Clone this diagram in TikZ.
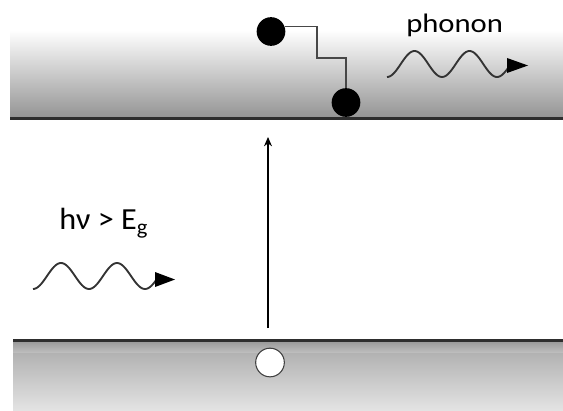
\documentclass[tikz,border=0pt]{standalone}
\usepackage{fontspec}
\setmainfont{Carlito}
\newfontfamily\phfont[FakeStretch=1.15]{Carlito}
\newfontfamily\hvfont[FakeStretch=1.05]{Carlito}
\usetikzlibrary{arrows.meta,calc}
\tikzset{
  bandline/.style={line width=2.25pt, draw=black!82},
  elec/.style={circle, fill=black, inner sep=0pt, minimum size=21.5pt},
  hole/.style={circle, fill=white, draw=black!75, line width=0.8pt, inner sep=0pt, minimum size=21.5pt},
  stepline/.style={draw=black!72, line width=1.1pt},
  wave/.style={draw=black!80, line width=1.4pt},
  tip/.style={fill=black},
  uparrow/.style={draw=black, line width=0.8pt, -{Stealth[length=7pt,width=6pt]}},
  lbl/.style={inner sep=0pt, anchor=base west}
}
\begin{document}
\begin{tikzpicture}[x=0.75pt,y=-0.75pt]
\useasboundingbox (0,0) rectangle (563,410);
% top band (conduction band)
\shade[top color=white, bottom color=black!42] (10,30) rectangle (563,118);
\draw[bandline] (10,118.5) -- (563,118.5);
% bottom band (valence band)
\shade[top color=black!34, bottom color=black!11] (13,341) rectangle (563,410);
\shade[top color=black!40, bottom color=black!26] (13,341) rectangle (563,352);
\draw[bandline] (13,340.5) -- (563,340.5);
% electrons
\node[elec] (e1) at (271,31.5) {};
\node[elec] (e2) at (346,102.5) {};
\draw[stepline] (e1.21) -| (317,58) -| (e2.north);
% hole
\node[hole] (h) at (270,362.5) {};
% excitation arrow
\coordinate (vb) at (268,328);
\coordinate (vt) at (268,137);
\draw[uparrow] (vb) -- (vt);
% photon
\node[lbl] (hv) at (59,229.5) {\fontsize{23pt}{27pt}\hvfont hν > E\textsubscript{g}};
\draw[wave] plot[domain=0:124, samples=90] ({33+\x}, {276+13*cos(6.4286*\x)});
\fill[tip] (155,272) -- (155,287) -- (175,279.5) -- cycle;
% phonon
\node[lbl] (ph) at (406,33) {\fontsize{20pt}{24pt}\phfont phonon};
\draw[wave] plot[domain=0:121, samples=90] ({387+\x}, {64+13*cos(6.5455*\x)});
\fill[tip] (507,58) -- (507,73) -- (528,65.5) -- cycle;
\end{tikzpicture}
\end{document}
